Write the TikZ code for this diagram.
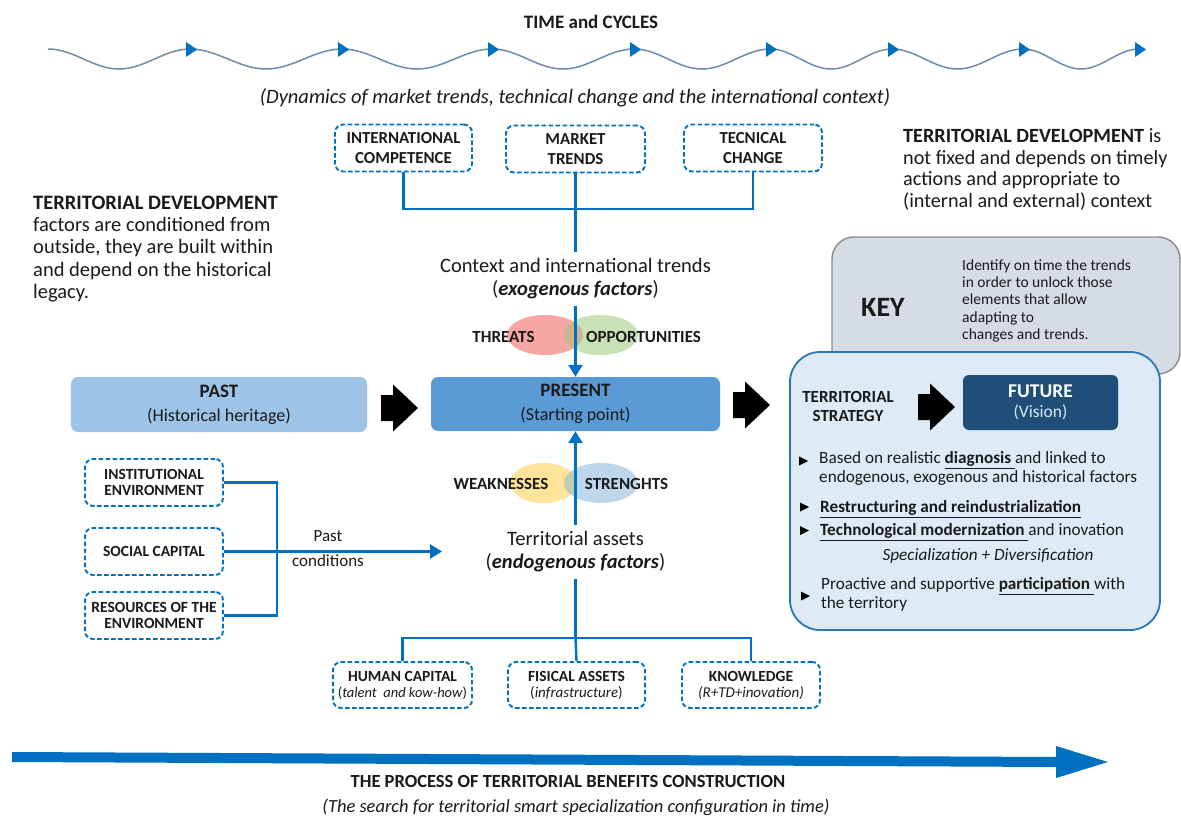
\documentclass[tikz,border=0pt]{standalone}
\usepackage{fontspec}
\setmainfont{Carlito}
\usetikzlibrary{arrows.meta,shapes.geometric,calc}
\definecolor{lblue}{HTML}{0070C0}
\definecolor{wavec}{RGB}{112,140,168}
\definecolor{pastc}{HTML}{9DC3E6}
\definecolor{presc}{HTML}{5B9BD5}
\definecolor{futc}{HTML}{1F4E79}
\definecolor{keyc}{HTML}{D6DCE5}
\definecolor{keyd}{HTML}{8A8A8A}
\definecolor{stratc}{HTML}{DEEBF7}
\definecolor{stratd}{HTML}{2E75B6}
\definecolor{threatc}{RGB}{246,166,164}
\definecolor{oppc}{RGB}{200,225,182}
\definecolor{toc}{RGB}{205,180,142}
\definecolor{weakc}{RGB}{255,228,153}
\definecolor{strc}{RGB}{190,214,236}
\definecolor{wsc}{RGB}{192,204,176}
\definecolor{txt}{HTML}{1A1A1A}
\newcommand\fz[2]{\fontsize{#1bp}{#2bp}\selectfont}
\begin{document}
\begin{tikzpicture}[x=1bp,y=-1bp,
  conn/.style={draw=lblue,line width=2.4bp},
  arr/.style={conn,-{Triangle[width=14bp,length=12bp]}},
  dbox/.style={draw=lblue,line width=1.9bp,dash pattern=on 4.5bp off 2.5bp,rounded corners=8bp,fill=white,align=center,inner sep=1bp,minimum height=47bp,text=txt},
  plain/.style={inner sep=0pt,text=txt},
  stage/.style={rounded corners=7bp,align=center,inner sep=0pt,text=txt},
  blockarr/.pic={\fill[black] (0,-13) -- (12,-13) -- (12,-23.5) -- (37,0) -- (12,23.5) -- (12,13) -- (0,13) -- cycle;},
  wtri/.pic={\fill[lblue] (-4,-7.5) -- (7,0) -- (-4,7.5) -- cycle;},
  bul/.pic={\fill[black] (0,-4.5) -- (9,0) -- (0,4.5) -- cycle;}
]
\useasboundingbox (0,0) rectangle (1181,817);
\fill[white] (0,0) rectangle (1181,817);

% ---- time and cycles
\node[plain,font=\fz{19}{22}\bfseries] (title) at (591,22) {TIME and CYCLES};
\draw[wavec,line width=1.5bp] (48,49) cos (83.5,59) sin (119,69) cos (154.5,59) sin (190,49)
  cos (228,59) sin (266,69) cos (304,59) sin (342,49)
  cos (379.5,59) sin (417,69) cos (454.5,59) sin (492,49)
  cos (527.5,59) sin (563,69) cos (598.5,59) sin (634,49)
  cos (668,59) sin (702,69) cos (736,59) sin (770,49)
  cos (800.5,59) sin (831,69) cos (861.5,59) sin (892,49)
  cos (924.75,59) sin (957.5,69) cos (990.25,59) sin (1023,49)
  cos (1052,59) sin (1081,69) cos (1110,59) sin (1139,49);
\foreach \p in {190,342,492,634,770,892,1023,1139} \pic at (\p,49.5) {wtri};
\node[plain,font=\fz{20.5}{24}\itshape] (dyn) at (575,98) {(Dynamics of market trends, technical change and the international context)};

% ---- side texts
\node[plain,anchor=north west,align=left,font=\fz{20.5}{22.3}] (ltext) at (33,195.5)
  {\textbf{TERRITORIAL DEVELOPMENT}\\factors are conditioned from\\outside, they are built within\\and depend on the historical\\legacy.};
\node[plain,anchor=north west,align=left,font=\fz{20.2}{21.7}] (rtext) at (903,128.5)
  {\textbf{TERRITORIAL DEVELOPMENT} is\\not fixed and depends on timely\\actions and appropriate to\\(internal and external) context};

% ---- exogenous
\node[dbox,minimum width=137bp,font=\fz{16.8}{19.5}\bfseries] (intl) at (403.5,148) {INTERNATIONAL\\COMPETENCE};
\node[dbox,minimum width=139bp,font=\fz{16.8}{19.5}\bfseries] (mkt) at (575.5,149) {MARKET\\TRENDS};
\node[dbox,minimum width=138bp,font=\fz{16.8}{19.5}\bfseries] (tec) at (753,148) {TECNICAL\\CHANGE};
\coordinate (topj) at (575.5,209);
\node[plain,inner sep=6bp,align=center,font=\fz{20.5}{23}] (ctx) at (575.5,279)
  {Context and international trends\\(\textbf{\textit{exogenous factors}})};
\draw[conn] (intl.south) |- (topj) -| (tec.south);
\draw[conn] (mkt.south) -- (topj) -- (ctx.north);

% ---- stages
\node[stage,fill=pastc,minimum width=296bp,minimum height=55bp,font=\fz{18}{24}] (past) at (219,404.5)
  {{\fz{19}{24}\bfseries PAST}\\(Historical heritage)};
\node[stage,fill=presc,minimum width=289bp,minimum height=54bp,font=\fz{18}{24}] (present) at (575.5,404)
  {{\fz{19}{24}\bfseries PRESENT}\\(Starting point)};
\pic at (381,408) {blockarr};
\pic at (733,405) {blockarr};

% ---- threats / opportunities
\fill[threatc] (545,335) ellipse [x radius=38bp,y radius=20bp];
\fill[oppc] (600.5,335) ellipse [x radius=37.5bp,y radius=20bp];
\begin{scope}
  \clip (545,335) ellipse [x radius=38bp,y radius=20bp];
  \fill[toc] (600.5,335) ellipse [x radius=37.5bp,y radius=20bp];
\end{scope}
\node[plain,font=\fz{17}{20}\bfseries] (thr) at (503.5,337) {THREATS};
\node[plain,font=\fz{17}{20}\bfseries] (opp) at (643.5,337) {OPPORTUNITIES};
\draw[arr] (ctx.south) -- (present.north);

% ---- weaknesses / strengths
\fill[weakc] (543.5,483) ellipse [x radius=33.5bp,y radius=20bp];
\fill[strc] (601,483) ellipse [x radius=37bp,y radius=20bp];
\begin{scope}
  \clip (543.5,483) ellipse [x radius=33.5bp,y radius=20bp];
  \fill[wsc] (601,483) ellipse [x radius=37bp,y radius=20bp];
\end{scope}
\node[plain,font=\fz{17}{20}\bfseries] (wea) at (501,484) {WEAKNESSES};
\node[plain,font=\fz{17}{20}\bfseries] (str) at (626.5,484) {STRENGHTS};

% ---- endogenous
\node[plain,inner sep=6bp,align=center,font=\fz{20.5}{23}] (ta) at (575.5,552)
  {Territorial assets\\(\textbf{\textit{endogenous factors}})};
\draw[arr] (ta.north) -- (present.south);
\node[dbox,minimum width=139bp,minimum height=46bp,font=\fz{15.5}{16}] (human) at (402.5,685)
  {\textbf{HUMAN CAPITAL}\\{\fz{14.5}{16}(\textit{talent~ and kow-how})}};
\node[dbox,minimum width=137bp,minimum height=46bp,font=\fz{15.5}{16}] (fis) at (576.5,685)
  {\textbf{FISICAL ASSETS}\\{\fz{15}{16}(\textit{infrastructure})}};
\node[dbox,minimum width=138bp,minimum height=46bp,font=\fz{15.5}{16}] (know) at (751,685)
  {\textbf{KNOWLEDGE}\\{\fz{15}{16}\textit{(R+TD+inovation)}}};
\coordinate (botj) at (575.5,638);
\draw[conn] (ta.south) -- (botj);
\draw[conn] (human.north) |- (botj) -| (know.north);
\draw[conn] (fis.north) -- (botj);

% ---- past conditions
\node[dbox,minimum width=138bp,font=\fz{15.5}{16.7}\bfseries] (inst) at (154,482.5) {INSTITUTIONAL\\ENVIRONMENT};
\node[dbox,minimum width=138bp,font=\fz{15.5}{16.7}\bfseries] (soc) at (154,551.5) {SOCIAL CAPITAL};
\node[dbox,minimum width=138bp,font=\fz{15.5}{16.7}\bfseries] (res) at (154,615.5) {RESOURCES OF THE\\ENVIRONMENT};
\coordinate (leftj) at (277,551.5);
\coordinate (pcend) at (442,551.5);
\draw[conn] (inst.east) -| (leftj);
\draw[conn] (res.east) -| (leftj);
\draw[arr] (soc.east) -- (pcend);
\node[plain,align=center,font=\fz{17}{25}] (pastc) at (328,548.5) {Past\\conditions};

% ---- key
\node[fill=keyc,draw=keyd,line width=1.4bp,rounded corners=22bp,minimum width=348bp,minimum height=137bp] (key) at (1006,305.5) {};
\node[plain,font=\fz{28}{30}\bfseries] (keyt) at (883,307) {KEY};
\node[plain,anchor=north west,align=left,font=\fz{15.5}{17.2}] (keyd) at (962,259.5)
  {Identify on time the trends\\in order to unlock those\\elements that allow\\adapting to\\changes and trends.};

% ---- strategy
\node[fill=stratc,draw=stratd,line width=1.8bp,rounded corners=30bp,minimum width=370bp,minimum height=278bp] (strat) at (975,491) {};
\node[plain,align=center,font=\fz{17}{19}\bfseries] (tstrat) at (848,406.5) {TERRITORIAL\\STRATEGY};
\pic at (918,407) {blockarr};
\node[stage,fill=futc,rounded corners=6bp,minimum width=155bp,minimum height=55bp,text=white,font=\fz{17.5}{20.5}] (future) at (1040.5,402.5)
  {{\fz{19.5}{20.5}\bfseries FUTURE}\\{\color{white!85!lblue}(Vision)}};
\pic at (799,461) {bul};
\pic at (800,507) {bul};
\pic at (800,530.5) {bul};
\pic at (801,596) {bul};
\node[plain,anchor=north west,align=left,font=\fz{17.2}{19}] (b1) at (819,451.5)
  {Based on realistic \underline{\textbf{diagnosis }}and linked to\\endogenous, exogenous and historical factors};
\node[plain,anchor=base west,font=\fz{17.2}{19}] (b2) at (820,512.5) {\underline{\textbf{Restructuring and reindustrialization}}};
\node[plain,anchor=base west,font=\fz{17.2}{19}] (b3) at (820,535.5) {\underline{\textbf{Technological modernization }}and inovation};
\node[plain,anchor=base,font=\fz{17.2}{19}\itshape] (spec) at (988,560.5) {Specialization + Diversification};
\node[plain,anchor=north west,align=left,font=\fz{17.2}{19}] (b4) at (821,577.5)
  {Proactive and supportive \underline{\textbf{participation }}with\\the territory};

% ---- process arrow
\fill[lblue] (12,752) -- (1056,757) -- (1056,746) -- (1108,762) -- (1056,778) -- (1056,767) -- (12,762) -- cycle;
\node[plain,font=\fz{18.5}{22}\bfseries] (proc) at (568,781) {THE PROCESS OF TERRITORIAL BENEFITS CONSTRUCTION};
\node[plain,font=\fz{18.5}{22}\itshape] (search) at (576,807) {(The search for territorial smart specialization configuration in time)};
\end{tikzpicture}
\end{document}
